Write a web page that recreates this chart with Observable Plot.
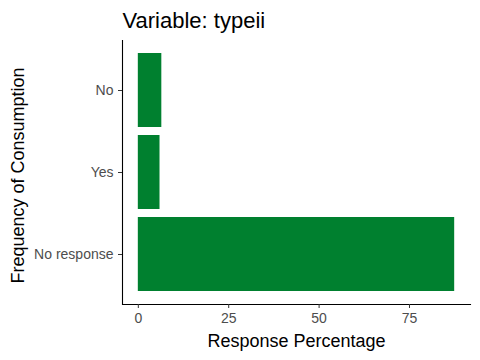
<!DOCTYPE html>
<html>
<head>
<meta charset="utf-8">
<script src="https://cdn.jsdelivr.net/npm/d3@7"></script>
<script src="https://cdn.jsdelivr.net/npm/@observablehq/plot@0.6"></script>
<style>
  html, body { margin: 0; padding: 0; background: #fff; }
  #chart svg { font-family: "Liberation Sans", Arial, sans-serif; display: block; }
</style>
</head>
<body>
<div id="chart"></div>
<script>
const title = "Variable: typeii";
const xLabel = "Response Percentage";
const yLabel = "Frequency of Consumption";
const categories = ["No", "Yes", "No response"];
const values = [6.5, 6.0, 87.5];
const xTicks = [0, 25, 50, 75];

const data = categories.map((c, i) => ({category: c, value: values[i]}));
const maxV = d3.max(values);
const pad = maxV * 0.05;

const chart = Plot.plot({
  width: 480,
  height: 360,
  marginLeft: 122,
  marginRight: 10,
  marginTop: 40,
  marginBottom: 56,
  style: {fontFamily: '"Liberation Sans", Arial, sans-serif', background: "#fff"},
  x: {domain: [-pad, maxV + pad]},
  y: {domain: categories, paddingInner: 0.1, paddingOuter: 0.15},
  marks: [
    Plot.barX(data, {x1: 0, x2: "value", y: "category", fill: "#00802F"}),
    Plot.ruleX([-pad], {stroke: "#000", strokeWidth: 1.1}),
    Plot.frame({anchor: "bottom", stroke: "#000", strokeWidth: 1.1}),
    Plot.axisX({ticks: xTicks, tickSize: 4, tickPadding: 5, stroke: "#333", fill: "#4D4D4D", fontSize: 14, label: null}),
    Plot.axisY({tickSize: 4, tickPadding: 5, stroke: "#333", fill: "#4D4D4D", fontSize: 14, label: null}),
    Plot.text([xLabel], {frameAnchor: "bottom", lineAnchor: "middle", dy: 37, fontSize: 18, fill: "#000"}),
    Plot.text([yLabel], {frameAnchor: "left", textAnchor: "middle", lineAnchor: "middle", dx: -104, dy: 3, rotate: -90, fontSize: 18, fill: "#000"}),
    Plot.text([title], {frameAnchor: "top-left", textAnchor: "start", lineAnchor: "middle", dy: -20, fontSize: 22, fill: "#000"})
  ]
});
document.getElementById("chart").appendChild(chart);
</script>
</body>
</html>
